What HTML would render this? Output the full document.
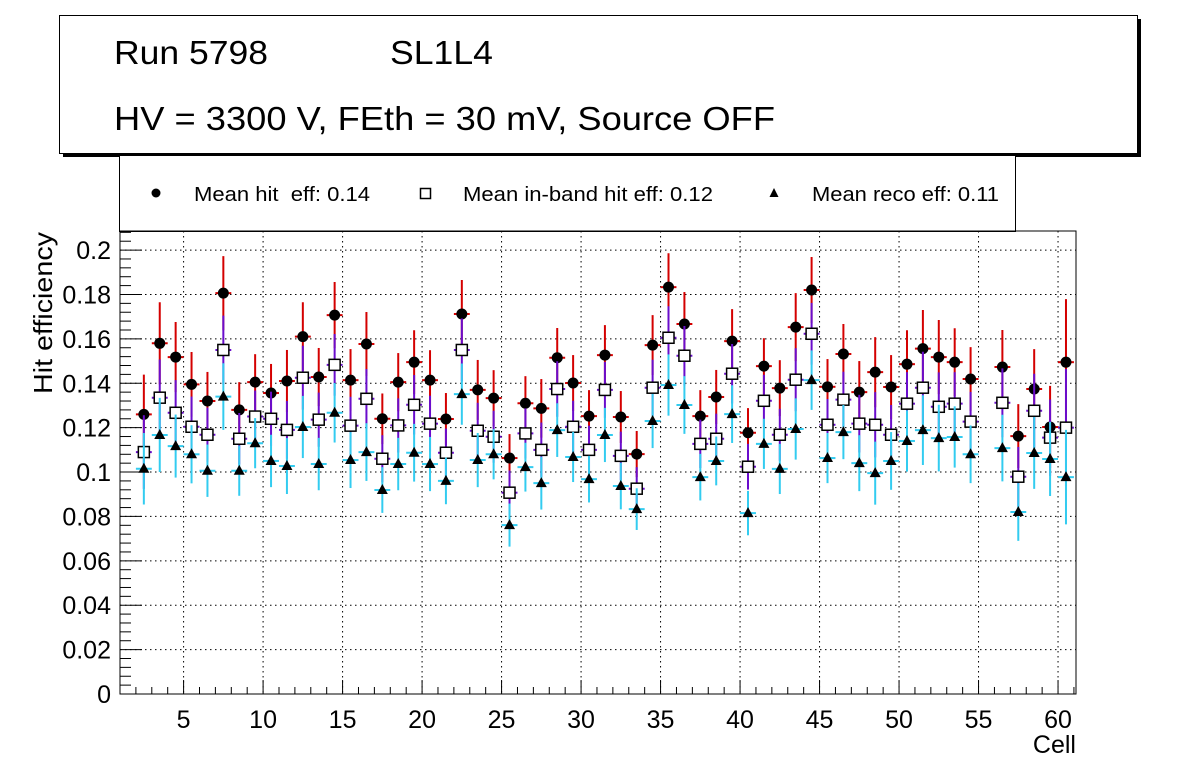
<!DOCTYPE html>
<html><head><meta charset="utf-8"><style>
html,body{margin:0;padding:0;background:#fff;}
svg{display:block;font-family:"Liberation Sans",sans-serif;}
</style></head><body>
<svg id="c" width="1196" height="772" xmlns="http://www.w3.org/2000/svg">
<rect x="0" y="0" width="1196" height="772" fill="#fff"/>
<g>
<rect x="63" y="19" width="1078" height="138" fill="#000"/>
<rect x="59.5" y="15.5" width="1078" height="138" fill="#fff" stroke="#000" stroke-width="1"/>
<text x="114" y="64" font-size="33" textLength="154" lengthAdjust="spacingAndGlyphs">Run 5798</text>
<text x="390" y="64" font-size="33" textLength="103" lengthAdjust="spacingAndGlyphs">SL1L4</text>
<text x="114" y="130" font-size="33" textLength="661" lengthAdjust="spacingAndGlyphs">HV = 3300 V, FEth = 30 mV, Source OFF</text>
</g>
<g>
<rect x="119.5" y="155.5" width="896" height="76" fill="#fff" stroke="#000" stroke-width="1"/>
<circle cx="156" cy="193" r="4.5" fill="#000"/>
<text x="194" y="201" font-size="20" textLength="176" lengthAdjust="spacingAndGlyphs" xml:space="preserve">Mean hit  eff: 0.14</text>
<rect x="420.5" y="188.5" width="10" height="10" fill="#fff" stroke="#000" stroke-width="1.5"/>
<text x="463" y="201" font-size="20" textLength="250" lengthAdjust="spacingAndGlyphs">Mean in-band hit eff: 0.12</text>
<polygon points="774,188 778.5,197 769.5,197" fill="#000"/>
<text x="812" y="201" font-size="20" textLength="187" lengthAdjust="spacingAndGlyphs">Mean reco eff: 0.11</text>
</g>
<g id="grid"></g>
<g id="axes"></g>
<g id="marks"></g>
<rect x="120" y="231" width="956" height="463" fill="none" stroke="#000" stroke-width="1"/>
<text x="52" y="313" font-size="26" text-anchor="middle" textLength="162" lengthAdjust="spacingAndGlyphs" transform="rotate(-90 52 313)">Hit efficiency</text>
<text x="1076" y="753" font-size="25" text-anchor="end">Cell</text>
</svg>
<script>
const cells = [2,3,4,5,6,7,8,9,10,11,12,13,14,15,16,17,18,19,20,21,22,23,24,25,26,27,28,29,30,31,32,33,34,35,36,37,38,39,40,41,42,43,44,45,46,47,48,49,50,51,52,53,54,56,57,58,59,60];
const hitEff = [0.126,0.158,0.1518,0.1395,0.132,0.1806,0.128,0.1405,0.1356,0.141,0.161,0.1428,0.1707,0.1414,0.1577,0.124,0.1405,0.1495,0.1414,0.1239,0.1712,0.137,0.1333,0.1063,0.131,0.1287,0.1515,0.1401,0.1252,0.1527,0.1248,0.1081,0.1572,0.1833,0.1667,0.1252,0.1338,0.159,0.1177,0.1477,0.1378,0.1653,0.182,0.1384,0.1532,0.136,0.145,0.1383,0.1486,0.1556,0.1518,0.1495,0.1419,0.1473,0.1162,0.1374,0.1203,0.1495];
const hitErr = [0.0179,0.0185,0.0158,0.0146,0.0131,0.0167,0.0125,0.0126,0.0131,0.014,0.0155,0.0131,0.0149,0.014,0.0144,0.0114,0.0131,0.0144,0.0135,0.0117,0.0153,0.0135,0.0126,0.0108,0.0122,0.0132,0.0134,0.0126,0.0117,0.0135,0.0117,0.0104,0.0135,0.0153,0.0144,0.0117,0.0122,0.0144,0.0111,0.0126,0.0126,0.0153,0.0149,0.0125,0.0135,0.014,0.0158,0.0144,0.0153,0.0174,0.0167,0.0153,0.0144,0.0167,0.0144,0.018,0.0185,0.0284];
const inbandEff = [0.109,0.1335,0.1267,0.1204,0.1168,0.155,0.115,0.125,0.124,0.119,0.1425,0.1236,0.1483,0.1209,0.133,0.106,0.121,0.1303,0.1218,0.1087,0.155,0.1186,0.1159,0.0907,0.1174,0.11,0.1374,0.1204,0.11,0.137,0.1073,0.0925,0.138,0.1605,0.1524,0.1127,0.115,0.1443,0.1024,0.1321,0.1168,0.1416,0.1623,0.1213,0.1326,0.1218,0.1213,0.1168,0.1308,0.138,0.1294,0.1308,0.1227,0.1312,0.0979,0.1276,0.1155,0.12];
const inbandErr = [0.0166,0.0172,0.0147,0.0136,0.0122,0.0155,0.0116,0.0117,0.0122,0.013,0.0144,0.0122,0.0139,0.013,0.0134,0.0106,0.0122,0.0134,0.0126,0.0109,0.0142,0.0126,0.0117,0.01,0.0113,0.0123,0.0125,0.0117,0.0109,0.0126,0.0109,0.0097,0.0126,0.0142,0.0134,0.0109,0.0113,0.0134,0.0103,0.0117,0.0117,0.0142,0.0139,0.0116,0.0126,0.013,0.0147,0.0134,0.0142,0.0162,0.0155,0.0142,0.0134,0.0155,0.0134,0.0167,0.0172,0.0264];
const recoEff = [0.1015,0.1167,0.1117,0.108,0.1006,0.134,0.1006,0.113,0.105,0.1027,0.1203,0.1036,0.1267,0.1054,0.109,0.0919,0.1036,0.1087,0.1036,0.096,0.1351,0.1054,0.108,0.0761,0.1022,0.095,0.1189,0.1068,0.0968,0.1167,0.0937,0.0833,0.123,0.1392,0.1302,0.0977,0.105,0.1261,0.0815,0.1127,0.1014,0.1194,0.1414,0.1063,0.118,0.104,0.0995,0.105,0.114,0.1189,0.1153,0.1158,0.108,0.1108,0.082,0.1086,0.1059,0.0977];
const recoErr = [0.0161,0.0167,0.0142,0.0131,0.0118,0.015,0.0113,0.0113,0.0118,0.0126,0.014,0.0118,0.0134,0.0126,0.013,0.0103,0.0118,0.013,0.0122,0.0105,0.0138,0.0122,0.0113,0.0097,0.011,0.0119,0.0121,0.0113,0.0105,0.0122,0.0105,0.0094,0.0122,0.0138,0.013,0.0105,0.011,0.013,0.01,0.0113,0.0113,0.0138,0.0134,0.0113,0.0122,0.0126,0.0142,0.013,0.0138,0.0157,0.015,0.0138,0.013,0.015,0.013,0.0162,0.0167,0.0213];
const yTicks = [0,0.02,0.04,0.06,0.08,0.1,0.12,0.14,0.16,0.18,0.2];
const yTickLabels = ["0","0.02","0.04","0.06","0.08","0.1","0.12","0.14","0.16","0.18","0.2"];
const xTicks = [5,10,15,20,25,30,35,40,45,50,55,60];
const xTickLabels = ["5","10","15","20","25","30","35","40","45","50","55","60"];

const NS = "http://www.w3.org/2000/svg";
const X0 = 120, X1 = 1076, Y0 = 694, Y1 = 231;
const xMin = 1, xMax = 61.13, yMin = 0, yMax = 0.2086;
function xs(v){ return X0 + (v - xMin) / (xMax - xMin) * (X1 - X0); }
function ys(v){ return Y0 - (v - yMin) / (yMax - yMin) * (Y0 - Y1); }
function mk(tag, attrs, parent){ const e = document.createElementNS(NS, tag); for (const k in attrs) e.setAttribute(k, attrs[k]); parent.appendChild(e); return e; }

const grid = document.getElementById('grid');
const axes = document.getElementById('axes');
const marks = document.getElementById('marks');

yTicks.forEach((t, i) => {
  const y = ys(t);
  if (t > 0) {
    const g = mk('line', {x1:X0, x2:X1, y1:y, y2:y, stroke:'#000', 'stroke-width':1, 'stroke-dasharray':'1.5,3.5'}, grid);
    
    
  }
  const tk = mk('line', {x1:X0, x2:X0+22, y1:y, y2:y, stroke:'#000', 'stroke-width':1}, axes);
  
  
  const lb = mk('text', {x:X0-9, y:y+9, 'font-size':25, 'text-anchor':'end'}, axes);
  lb.textContent = yTickLabels[i];
  
  
});
for (let v = 0.004; v < yMax; v += 0.004) {
  if (Math.abs(v/0.02 - Math.round(v/0.02)) < 1e-6) continue;
  const y = ys(v);
  const m = mk('line', {x1:X0, x2:X0+11, y1:y, y2:y, stroke:'#000', 'stroke-width':1}, axes);
  
  
}
xTicks.forEach((t, i) => {
  const x = xs(t);
  const g = mk('line', {x1:x, x2:x, y1:Y1, y2:Y0, stroke:'#000', 'stroke-width':1, 'stroke-dasharray':'1.5,3.5'}, grid);
  
  
  const tk = mk('line', {x1:x, x2:x, y1:Y0, y2:Y0-14, stroke:'#000', 'stroke-width':1}, axes);
  
  
  const lb = mk('text', {x:x, y:728, 'font-size':25, 'text-anchor':'middle'}, axes);
  lb.textContent = xTickLabels[i];
  
  
});
for (let v = 2; v <= 61; v++) {
  if (v % 5 === 0) continue;
  const x = xs(v);
  const m = mk('line', {x1:x, x2:x, y1:Y0, y2:Y0-7, stroke:'#000', 'stroke-width':1}, axes);
  
  
}

function drawSeries(vals, errs, color, shape, name) {
  const g = mk('g', {}, marks);
  
  
  cells.forEach((c, i) => {
    const cx = xs(c + 0.5), cy = ys(vals[i]);
    const xl = xs(c), xr = xs(c + 1);
    const e1 = mk('line', {x1:cx, x2:cx, y1:ys(vals[i]+errs[i]), y2:ys(vals[i]-errs[i]), stroke:color, 'stroke-width':2}, g);
    
    
    const h1 = mk('line', {x1:xl, x2:xr, y1:cy, y2:cy, stroke:color, 'stroke-width':2}, g);
    
    
    let m;
    if (shape === 'circle') m = mk('circle', {cx:cx, cy:cy, r:5.5, fill:'#000'}, g);
    else if (shape === 'square') m = mk('rect', {x:cx-5.5, y:cy-5.5, width:11, height:11, fill:'#fff', stroke:'#000', 'stroke-width':1.5}, g);
    else m = mk('polygon', {points:(cx)+','+(cy-6)+' '+(cx+5.5)+','+(cy+4)+' '+(cx-5.5)+','+(cy+4), fill:'#000'}, g);
    
    
  });
}
drawSeries(hitEff, hitErr, '#d40000', 'circle', 'hit-eff');
drawSeries(inbandEff, inbandErr, '#6a0dcc', 'square', 'inband-eff');
drawSeries(recoEff, recoErr, '#33ccf0', 'triangle', 'reco-eff');
</script>
</body></html>
